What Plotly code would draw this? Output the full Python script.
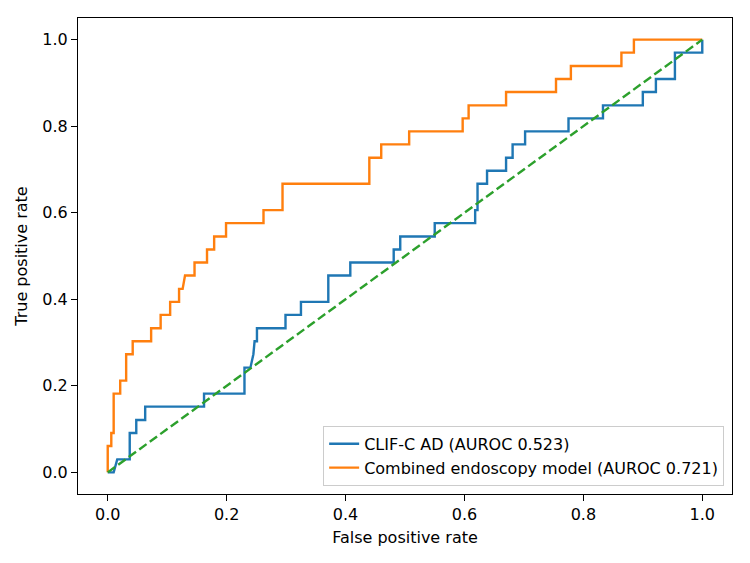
import plotly.graph_objects as go

# ROC vertices (FPR, TPR)
clif_fpr = [0, 0.010, 0.016, 0.037, 0.037, 0.048, 0.048, 0.063, 0.063, 0.162, 0.162, 0.230, 0.230,
            0.240, 0.245, 0.247, 0.251, 0.251, 0.299, 0.299, 0.325, 0.325, 0.371, 0.371, 0.408, 0.408,
            0.481, 0.481, 0.492, 0.492, 0.550, 0.550, 0.618, 0.618, 0.622, 0.622, 0.638, 0.638, 0.670,
            0.670, 0.681, 0.681, 0.702, 0.702, 0.775, 0.775, 0.833, 0.833, 0.900, 0.900, 0.922, 0.922,
            0.954, 0.954, 1.0, 1.0]
clif_tpr = [0, 0, 0.030, 0.030, 0.091, 0.091, 0.121, 0.121, 0.152, 0.152, 0.182, 0.182, 0.242,
            0.242, 0.273, 0.303, 0.303, 0.333, 0.333, 0.364, 0.364, 0.394, 0.394, 0.455, 0.455, 0.485,
            0.485, 0.515, 0.515, 0.545, 0.545, 0.576, 0.576, 0.606, 0.606, 0.667, 0.667, 0.697, 0.697,
            0.727, 0.727, 0.758, 0.758, 0.788, 0.788, 0.818, 0.818, 0.848, 0.848, 0.879, 0.879, 0.909,
            0.909, 0.970, 0.970, 1.0]

endo_fpr = [0, 0, 0.006, 0.006, 0.010, 0.010, 0.021, 0.021, 0.031, 0.031, 0.042, 0.042, 0.073,
            0.073, 0.089, 0.089, 0.105, 0.105, 0.120, 0.120, 0.126, 0.130, 0.146, 0.146, 0.167, 0.167,
            0.179, 0.179, 0.199, 0.199, 0.262, 0.262, 0.294, 0.294, 0.440, 0.440, 0.460, 0.460, 0.507,
            0.507, 0.597, 0.597, 0.607, 0.607, 0.670, 0.670, 0.754, 0.754, 0.779, 0.779, 0.864, 0.864,
            0.885, 0.885, 1.0]
endo_tpr = [0, 0.061, 0.061, 0.091, 0.091, 0.182, 0.182, 0.212, 0.212, 0.273, 0.273, 0.303, 0.303,
            0.333, 0.333, 0.364, 0.364, 0.394, 0.394, 0.424, 0.424, 0.455, 0.455, 0.485, 0.485, 0.515,
            0.515, 0.545, 0.545, 0.576, 0.576, 0.606, 0.606, 0.667, 0.667, 0.727, 0.727, 0.758, 0.758,
            0.788, 0.788, 0.818, 0.818, 0.848, 0.848, 0.879, 0.879, 0.909, 0.909, 0.939, 0.939, 0.970,
            0.970, 1.0, 1.0]

chance = [0, 1]
tick_vals = [0.0, 0.2, 0.4, 0.6, 0.8, 1.0]
tick_text = ["0.0", "0.2", "0.4", "0.6", "0.8", "1.0"]

FONT = "DejaVu Sans"

fig = go.Figure()
fig.add_trace(go.Scatter(x=clif_fpr, y=clif_tpr, mode="lines",
                         line=dict(color="#1f77b4", width=2.4),
                         name="CLIF-C AD (AUROC 0.523)"))
fig.add_trace(go.Scatter(x=endo_fpr, y=endo_tpr, mode="lines",
                         line=dict(color="#ff7f0e", width=2.4),
                         name="Combined endoscopy model (AUROC 0.721)"))
fig.add_trace(go.Scatter(x=chance, y=chance, mode="lines",
                         line=dict(color="#2ca02c", width=2.4, dash="9px,4px"),
                         showlegend=False))

axis_common = dict(range=[-0.05, 1.05], showgrid=False, zeroline=False, showline=True,
                   linecolor="black", linewidth=1.2, mirror=True, ticks="outside",
                   ticklen=6, tickwidth=1.2, tickcolor="black",
                   tickvals=tick_vals, ticktext=tick_text,
                   tickfont=dict(family=FONT, size=16, color="black"))

fig.update_layout(
    width=750, height=563,
    margin=dict(l=78, r=18, t=18, b=69),
    paper_bgcolor="white", plot_bgcolor="white",
    font=dict(family=FONT, size=16, color="black"),
    xaxis=dict(**axis_common, title=dict(text="False positive rate", standoff=8,
                                         font=dict(family=FONT, size=16))),
    yaxis=dict(**axis_common, title=dict(text="True positive rate", standoff=10,
                                         font=dict(family=FONT, size=16))),
    legend=dict(x=0.988, y=0.017, xanchor="right", yanchor="bottom",
                bgcolor="rgba(255,255,255,0.8)", bordercolor="#cccccc", borderwidth=1,
                font=dict(family=FONT, size=16, color="black"), tracegroupgap=0),
    showlegend=True,
)

fig.write_html("out.html")
